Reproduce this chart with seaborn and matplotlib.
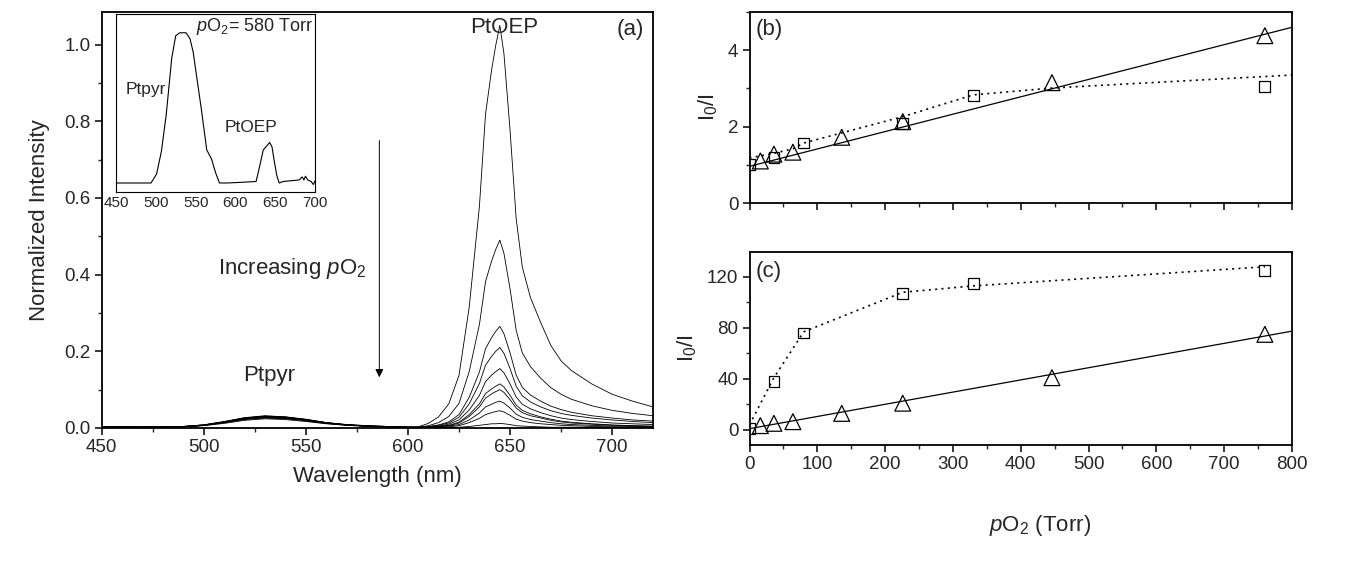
import matplotlib
matplotlib.use("Agg")
import matplotlib.pyplot as plt
import numpy as np
import pandas as pd
import seaborn as sns
from matplotlib.ticker import MultipleLocator

# --- panel (a): emission spectra at increasing pO2 ---
wavelength = [450, 470, 490, 500, 510, 520, 530, 540, 550, 560, 570, 580, 590, 600,
              605, 610, 615, 620, 625, 630, 635, 638, 641, 643, 645, 647, 650, 653,
              656, 660, 665, 670, 675, 680, 690, 700, 710, 720]

spec_1 = [0.003, 0.002, 0.003, 0.006, 0.012, 0.020, 0.024, 0.022, 0.017, 0.011, 0.007, 0.004, 0.003, 0.002,
          0.003, 0.012, 0.029, 0.063, 0.137, 0.315, 0.578, 0.819, 0.935, 0.998, 1.050, 0.977, 0.777, 0.546,
          0.420, 0.340, 0.275, 0.215, 0.175, 0.150, 0.115, 0.088, 0.070, 0.055]
spec_2 = [0.003, 0.002, 0.003, 0.007, 0.014, 0.022, 0.026, 0.024, 0.019, 0.012, 0.007, 0.005, 0.003, 0.002,
          0.002, 0.006, 0.014, 0.030, 0.064, 0.147, 0.270, 0.382, 0.436, 0.466, 0.490, 0.456, 0.363, 0.255,
          0.196, 0.160, 0.130, 0.105, 0.088, 0.075, 0.058, 0.046, 0.038, 0.032]
spec_3 = [0.003, 0.002, 0.003, 0.007, 0.014, 0.023, 0.027, 0.025, 0.019, 0.012, 0.008, 0.005, 0.003, 0.002,
          0.002, 0.004, 0.008, 0.016, 0.035, 0.080, 0.146, 0.207, 0.236, 0.252, 0.265, 0.246, 0.196, 0.138,
          0.106, 0.086, 0.070, 0.057, 0.048, 0.041, 0.032, 0.026, 0.021, 0.018]
spec_4 = [0.003, 0.002, 0.003, 0.007, 0.015, 0.024, 0.028, 0.026, 0.020, 0.013, 0.008, 0.005, 0.003, 0.002,
          0.001, 0.003, 0.007, 0.013, 0.028, 0.063, 0.116, 0.164, 0.187, 0.200, 0.210, 0.195, 0.155, 0.109,
          0.084, 0.068, 0.055, 0.045, 0.038, 0.033, 0.026, 0.021, 0.017, 0.014]
spec_5 = [0.003, 0.002, 0.003, 0.007, 0.015, 0.025, 0.029, 0.027, 0.021, 0.013, 0.008, 0.005, 0.003, 0.002,
          0.001, 0.003, 0.005, 0.010, 0.021, 0.047, 0.085, 0.121, 0.138, 0.147, 0.155, 0.144, 0.115, 0.081,
          0.062, 0.050, 0.040, 0.032, 0.026, 0.022, 0.017, 0.013, 0.011, 0.009]
spec_6 = [0.003, 0.002, 0.003, 0.007, 0.015, 0.025, 0.029, 0.027, 0.021, 0.013, 0.008, 0.005, 0.003, 0.002,
          0.001, 0.002, 0.004, 0.007, 0.015, 0.035, 0.063, 0.090, 0.102, 0.109, 0.115, 0.107, 0.085, 0.060,
          0.046, 0.037, 0.029, 0.023, 0.018, 0.015, 0.011, 0.008, 0.006, 0.005]
spec_7 = [0.004, 0.002, 0.004, 0.008, 0.016, 0.026, 0.030, 0.028, 0.022, 0.014, 0.008, 0.005, 0.004, 0.002,
          0.002, 0.002, 0.004, 0.006, 0.013, 0.030, 0.055, 0.078, 0.089, 0.095, 0.100, 0.093, 0.074, 0.052,
          0.040, 0.032, 0.026, 0.020, 0.016, 0.013, 0.010, 0.007, 0.006, 0.004]
spec_8 = [0.004, 0.002, 0.004, 0.008, 0.016, 0.026, 0.030, 0.028, 0.022, 0.014, 0.008, 0.005, 0.004, 0.002,
          0.002, 0.002, 0.003, 0.005, 0.009, 0.021, 0.039, 0.055, 0.062, 0.067, 0.070, 0.065, 0.052, 0.036,
          0.028, 0.022, 0.018, 0.014, 0.011, 0.009, 0.007, 0.005, 0.004, 0.003]
spec_9 = [0.004, 0.002, 0.004, 0.008, 0.016, 0.026, 0.031, 0.029, 0.022, 0.014, 0.009, 0.006, 0.004, 0.002,
          0.002, 0.001, 0.002, 0.003, 0.006, 0.014, 0.025, 0.035, 0.040, 0.043, 0.045, 0.042, 0.033, 0.023,
          0.018, 0.014, 0.011, 0.009, 0.007, 0.006, 0.004, 0.003, 0.002, 0.002]
spec_10 = [0.004, 0.003, 0.004, 0.008, 0.017, 0.027, 0.032, 0.029, 0.023, 0.014, 0.009, 0.006, 0.004, 0.002,
           0.002, 0.001, 0.001, 0.001, 0.002, 0.004, 0.007, 0.009, 0.011, 0.011, 0.012, 0.011, 0.009, 0.006,
           0.005, 0.004, 0.003, 0.002, 0.002, 0.002, 0.001, 0.001, 0.001, 0.001]
spectra = [spec_1, spec_2, spec_3, spec_4, spec_5, spec_6, spec_7, spec_8, spec_9, spec_10]

# inset: spectrum at pO2 = 580 Torr
inset_wl = [450, 470, 494, 501, 507, 513, 520, 525, 530, 538, 543, 547, 551, 557, 564, 567, 570, 575,
            580, 590, 610, 626, 630, 635, 640, 643, 646, 649, 652, 655, 660, 670, 680, 684, 686, 688,
            691, 695, 698, 700]
inset_val = [0.0, 0.0, 0.0, 0.06, 0.21, 0.45, 0.83, 0.98, 1.0, 1.0, 0.96, 0.87, 0.72, 0.5, 0.22, 0.19,
             0.16, 0.07, 0.0, 0.0, 0.005, 0.01, 0.1, 0.22, 0.25, 0.27, 0.24, 0.14, 0.05, 0.0, 0.01, 0.015,
             0.02, 0.04, 0.02, 0.045, 0.02, 0.01, -0.01, 0.015]

# --- panel (b): Ptpyr Stern-Volmer ---
b_sq_x = [0, 36, 80, 226, 330, 760]
b_sq_y = [1.01, 1.19, 1.57, 2.09, 2.81, 3.04]
b_sq_fit_x = [0, 36, 64, 80, 226, 330, 446, 800]
b_sq_fit_y = [1.18, 1.30, 1.42, 1.57, 2.26, 2.83, 3.01, 3.35]
b_tri_x = [16, 36, 64, 136, 226, 446, 760]
b_tri_y = [1.10, 1.28, 1.33, 1.72, 2.13, 3.15, 4.38]
b_tri_fit_x = [0, 800]
b_tri_fit_y = [0.96, 4.60]

# --- panel (c): PtOEP Stern-Volmer ---
c_sq_x = [0, 36, 80, 226, 330, 760]
c_sq_y = [1.0, 38, 76, 107, 115, 125]
c_sq_fit_x = [0, 36, 80, 226, 330, 760]
c_sq_fit_y = [4, 41, 77, 108, 113, 128]
c_tri_x = [16, 36, 64, 136, 226, 446, 760]
c_tri_y = [3.4, 5.2, 6.5, 13, 21, 41, 75]
c_tri_fit_x = [0, 800]
c_tri_fit_y = [1.0, 77.5]

sns.set_theme(style="ticks")
plt.rcParams["font.family"] = ["Liberation Sans", "DejaVu Sans"]
plt.rcParams["mathtext.fontset"] = "custom"
plt.rcParams["mathtext.rm"] = "Liberation Sans"
plt.rcParams["mathtext.it"] = "Liberation Sans:italic"

W, H = 1352, 561
fig = plt.figure(figsize=(W / 100, H / 100), dpi=100)


def box(l, t, r, b):
    return [l / W, 1 - b / H, (r - l) / W, (b - t) / H]


ax_a = fig.add_axes(box(101.6, 12, 653, 428))
ax_b = fig.add_axes(box(749.5, 12, 1292, 203))
ax_c = fig.add_axes(box(749.5, 252, 1292, 444.6))
ax_in = fig.add_axes(box(116, 14, 315, 192))


def style_axis(ax):
    for sp in ax.spines.values():
        sp.set_visible(True)
        sp.set_linewidth(1.3)
        sp.set_color("black")
    ax.tick_params(which="major", direction="out", length=5, width=1.1, labelsize=13.5,
                   top=False, right=False, color="black", pad=3)
    ax.tick_params(which="minor", direction="out", length=3, width=1.0, top=False, right=False)


# panel (a)
df_spec = pd.DataFrame({
    "wavelength": wavelength * len(spectra),
    "intensity": [v for s in spectra for v in s],
    "curve": np.repeat(np.arange(len(spectra)), len(wavelength)),
})
sns.lineplot(data=df_spec, x="wavelength", y="intensity", units="curve", estimator=None,
             color="black", lw=0.6, ax=ax_a, legend=False)
ax_a.set_xlim(450, 720)
ax_a.set_ylim(0, 1.085)
ax_a.xaxis.set_major_locator(MultipleLocator(50))
ax_a.xaxis.set_minor_locator(MultipleLocator(25))
ax_a.yaxis.set_major_locator(MultipleLocator(0.2))
ax_a.yaxis.set_minor_locator(MultipleLocator(0.1))
ax_a.yaxis.set_major_formatter(matplotlib.ticker.FormatStrFormatter("%.1f"))
style_axis(ax_a)
ax_a.set_xlabel("Wavelength (nm)", fontsize=16, labelpad=7)
ax_a.set_ylabel("Normalized Intensity", fontsize=16, labelpad=10)
ax_a.text(647, 1.045, "PtOEP", fontsize=16, ha="center", va="center")
ax_a.text(532, 0.136, "Ptpyr", fontsize=16, ha="center", va="center")
ax_a.text(709, 1.04, "(a)", fontsize=16, ha="center", va="center")
ax_a.text(580, 0.415, "Increasing $p$O$_2$", fontsize=16, ha="right", va="center")
ax_a.annotate("", xy=(586, 0.125), xytext=(586, 0.757),
              arrowprops=dict(arrowstyle="-|>", color="black", lw=0.7, mutation_scale=12))

# inset
sns.lineplot(x=inset_wl, y=inset_val, color="black", lw=0.8, ax=ax_in, sort=False)
ax_in.set_xlim(450, 700)
ax_in.set_ylim(-0.06, 1.125)
ax_in.xaxis.set_major_locator(MultipleLocator(50))
ax_in.set_yticks([])
for sp in ax_in.spines.values():
    sp.set_visible(True)
    sp.set_linewidth(0.8)
    sp.set_color("black")
ax_in.tick_params(axis="x", length=0, labelsize=11, pad=3)
ax_in.set_facecolor("white")
ax_in.text(487, 0.62, "Ptpyr", fontsize=12.5, ha="center", va="center")
ax_in.text(619, 0.37, "PtOEP", fontsize=12.5, ha="center", va="center")
ax_in.text(698, 1.04, "$p$O$_2$= 580 Torr", fontsize=13, ha="right", va="center")

# panels (b) and (c)
marker_kw = dict(color="black", facecolors="none", edgecolor="black", linewidth=0.9, legend=False)
for ax, sq_x, sq_y, sfx, sfy, tr_x, tr_y, tfx, tfy in [
    (ax_b, b_sq_x, b_sq_y, b_sq_fit_x, b_sq_fit_y, b_tri_x, b_tri_y, b_tri_fit_x, b_tri_fit_y),
    (ax_c, c_sq_x, c_sq_y, c_sq_fit_x, c_sq_fit_y, c_tri_x, c_tri_y, c_tri_fit_x, c_tri_fit_y),
]:
    sns.lineplot(x=sfx, y=sfy, color="black", lw=1.2, linestyle=(0, (1.2, 2.6)), ax=ax)
    sns.lineplot(x=tfx, y=tfy, color="black", lw=0.9, ax=ax)
    sns.scatterplot(x=sq_x, y=sq_y, marker="s", s=60, ax=ax, zorder=3, **marker_kw)
    sns.scatterplot(x=tr_x, y=tr_y, marker="^", s=130, ax=ax, zorder=3, **marker_kw)
    ax.set_xlim(0, 800)
    ax.xaxis.set_major_locator(MultipleLocator(100))
    ax.xaxis.set_minor_locator(MultipleLocator(50))
    style_axis(ax)
    ax.set_ylabel("I$_0$/I", fontsize=16, labelpad=6)

ax_b.set_ylim(0, 5)
ax_b.yaxis.set_major_locator(MultipleLocator(2))
ax_b.yaxis.set_minor_locator(MultipleLocator(1))
ax_b.tick_params(axis="x", labelbottom=False)
ax_b.text(0.012, 0.91, "(b)", transform=ax_b.transAxes, fontsize=16, ha="left", va="center")

ax_c.set_ylim(-11.5, 139.6)
ax_c.yaxis.set_major_locator(MultipleLocator(40))
ax_c.yaxis.set_minor_locator(MultipleLocator(20))
ax_c.text(0.012, 0.9, "(c)", transform=ax_c.transAxes, fontsize=16, ha="left", va="center")

fig.text(1040 / W, 1 - 525 / H, "$p$O$_2$ (Torr)", fontsize=16, ha="center", va="center")

fig.savefig("out.png", dpi=100, facecolor="white")
